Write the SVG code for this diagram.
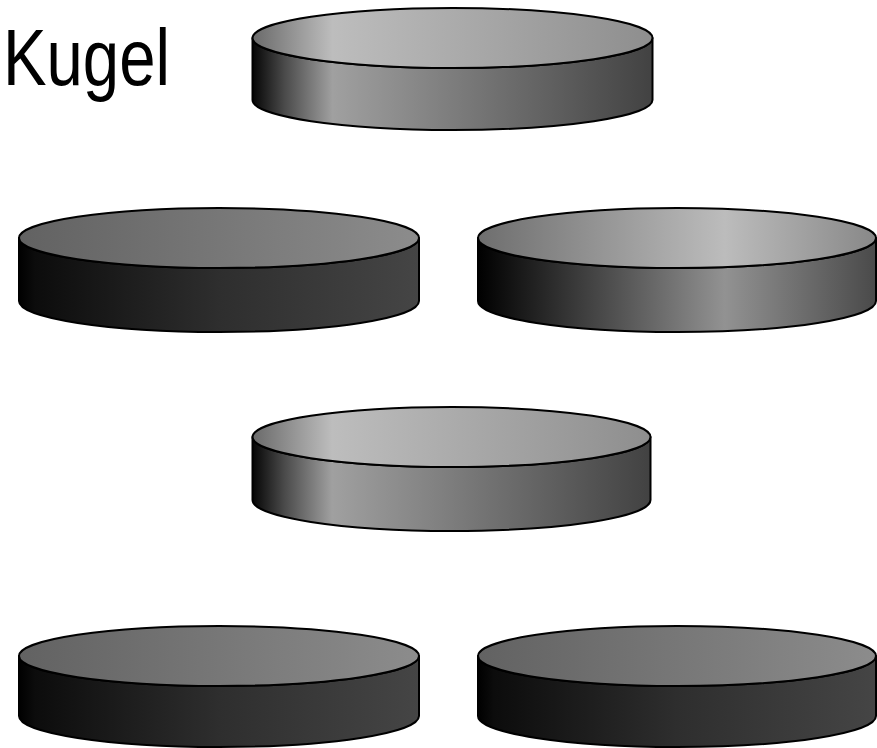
<svg xmlns="http://www.w3.org/2000/svg" width="877" height="748" viewBox="0 0 877 748">
<style>
.edge{stroke:#000;stroke-width:2;stroke-linejoin:round}
.title{font-family:"Liberation Sans",Arial,sans-serif;font-size:80px;fill:#000}
</style>
<defs>
<linearGradient id="sideL" x1="0" y1="0" x2="1" y2="0">
<stop offset="0" stop-color="#050505"/><stop offset="0.08" stop-color="#4a4a4a"/><stop offset="0.2" stop-color="#a0a0a0"/><stop offset="1" stop-color="#424242"/>
</linearGradient>
<linearGradient id="topL" x1="0" y1="0" x2="1" y2="0">
<stop offset="0" stop-color="#6a6a6a"/><stop offset="0.2" stop-color="#bdbdbd"/><stop offset="1" stop-color="#8e8e8e"/>
</linearGradient>
<linearGradient id="sideD" x1="0" y1="0" x2="1" y2="0">
<stop offset="0" stop-color="#000"/><stop offset="0.04" stop-color="#0c0c0c"/><stop offset="0.5" stop-color="#2e2e2e"/><stop offset="1" stop-color="#454545"/>
</linearGradient>
<linearGradient id="topD" x1="0" y1="0" x2="1" y2="0">
<stop offset="0" stop-color="#626262"/><stop offset="1" stop-color="#8c8c8c"/>
</linearGradient>
<linearGradient id="sideR" x1="0" y1="0" x2="1" y2="0">
<stop offset="0" stop-color="#000"/><stop offset="0.62" stop-color="#929292"/><stop offset="1" stop-color="#4a4a4a"/>
</linearGradient>
<linearGradient id="topR" x1="0" y1="0" x2="1" y2="0">
<stop offset="0" stop-color="#6e6e6e"/><stop offset="0.62" stop-color="#bcbcbc"/><stop offset="1" stop-color="#888"/>
</linearGradient>
</defs>
<rect width="877" height="748" fill="#fff"/>
<text class="title" x="3" y="85" textLength="167" lengthAdjust="spacingAndGlyphs">Kugel</text>
<g id="cyl1">
<path class="edge" fill="url(#sideL)" d="M252.5,38 V100 A200,30 0 0 0 652.5,100 V38 A200,30 0 0 1 252.5,38 Z"/>
<ellipse class="edge" fill="url(#topL)" cx="452.5" cy="38" rx="200" ry="30"/>
</g>
<g id="cyl2">
<path class="edge" fill="url(#sideD)" d="M19,238 V301 A200,31 0 0 0 419,301 V238 A200,30 0 0 1 19,238 Z"/>
<ellipse class="edge" fill="url(#topD)" cx="219" cy="238" rx="200" ry="30"/>
</g>
<g id="cyl3">
<path class="edge" fill="url(#sideR)" d="M478,238 V301 A199,31 0 0 0 876,301 V238 A199,30 0 0 1 478,238 Z"/>
<ellipse class="edge" fill="url(#topR)" cx="677" cy="238" rx="199" ry="30"/>
</g>
<g id="cyl4">
<path class="edge" fill="url(#sideL)" d="M252.5,437 V500 A199,31 0 0 0 650.5,500 V437 A199,30 0 0 1 252.5,437 Z"/>
<ellipse class="edge" fill="url(#topL)" cx="451.5" cy="437" rx="199" ry="30"/>
</g>
<g id="cyl5">
<path class="edge" fill="url(#sideD)" d="M19,656 V716 A200,31 0 0 0 419,716 V656 A200,30 0 0 1 19,656 Z"/>
<ellipse class="edge" fill="url(#topD)" cx="219" cy="656" rx="200" ry="30"/>
</g>
<g id="cyl6">
<path class="edge" fill="url(#sideD)" d="M478,656 V716 A199,31 0 0 0 876,716 V656 A199,30 0 0 1 478,656 Z"/>
<ellipse class="edge" fill="url(#topD)" cx="677" cy="656" rx="199" ry="30"/>
</g>
</svg>
